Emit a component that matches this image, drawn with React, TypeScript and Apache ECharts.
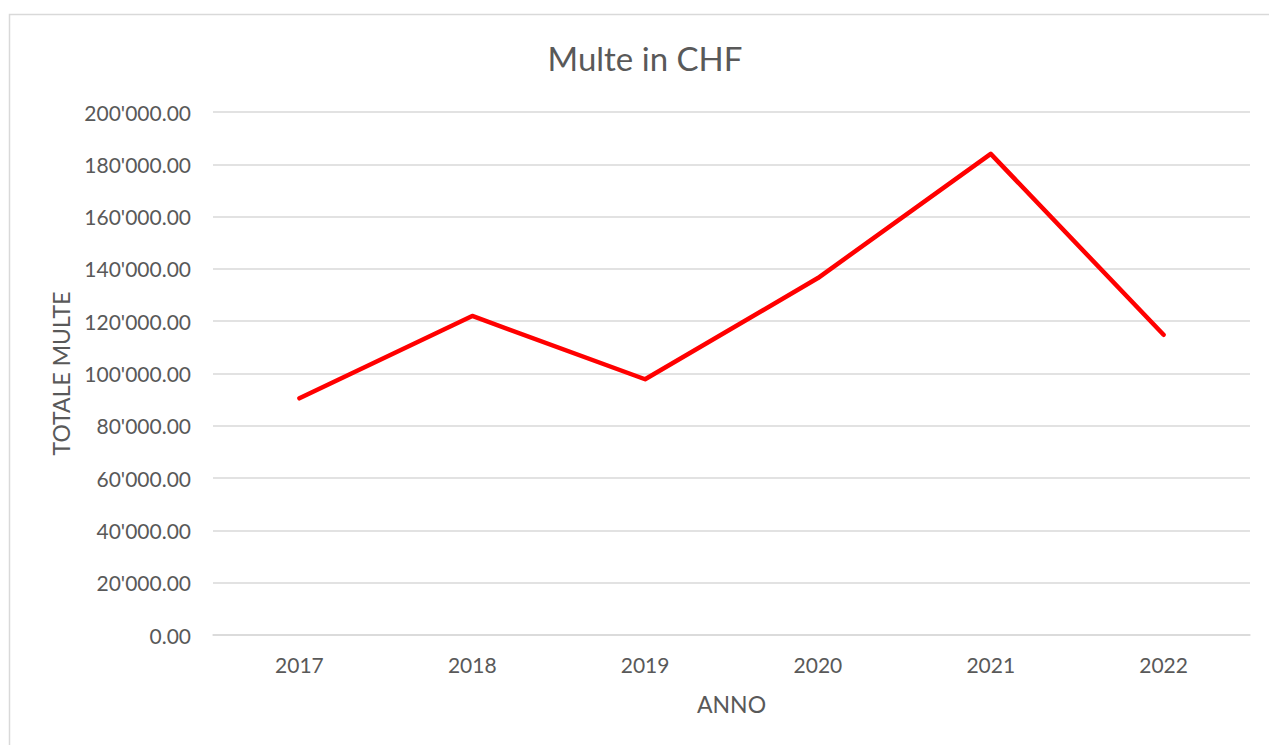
import React, { useEffect, useRef } from "react";
import * as echarts from "echarts";

const years = ["2017", "2018", "2019", "2020", "2021", "2022"];
const multe = [90500, 122000, 97800, 136500, 184000, 114800];

function fmt(v: number): string {
  const [i, d] = v.toFixed(2).split(".");
  return i.replace(/\B(?=(\d{3})+(?!\d))/g, "'") + "." + d;
}

export default function App() {
  const ref = useRef<HTMLDivElement>(null);
  useEffect(() => {
    const chart = echarts.init(ref.current!, undefined, { renderer: "svg" });
    const font = "Lato, 'Open Sans', sans-serif";
    chart.setOption({
      animation: false,
      backgroundColor: "#ffffff",
      textStyle: { fontFamily: font },
      graphic: [
        {
          type: "rect",
          shape: { x: 9.5, y: 14.5, width: 1300, height: 800 },
          style: { fill: "none", stroke: "#d9d9d9", lineWidth: 1.5 },
          silent: true,
        },
      ],
      title: {
        text: "Multe in CHF",
        left: 640,
        top: 36,
        textAlign: "center",
        textStyle: { fontFamily: font, fontSize: 33, fontWeight: "normal", color: "#595959" },
      },
      grid: { left: 213, right: 19, top: 112, bottom: 110 },
      xAxis: {
        type: "category",
        data: years,
        boundaryGap: true,
        name: "ANNO",
        nameLocation: "middle",
        nameGap: 57,
        nameTextStyle: { fontFamily: font, fontSize: 23, color: "#595959" },
        axisLine: { lineStyle: { color: "#d9d9d9", width: 1.5 } },
        axisTick: { show: false },
        axisLabel: { fontFamily: font, fontSize: 21, color: "#595959", margin: 19 },
      },
      yAxis: {
        type: "value",
        min: 0,
        max: 200000,
        interval: 20000,
        name: "TOTALE MULTE",
        nameLocation: "middle",
        nameGap: 141,
        nameTextStyle: { fontFamily: font, fontSize: 23, color: "#595959" },
        axisLine: { show: false },
        axisTick: { show: false },
        axisLabel: { fontFamily: font, fontSize: 21, color: "#595959", margin: 22, formatter: (v: number) => fmt(v) },
        splitLine: { lineStyle: { color: "#d9d9d9", width: 1.5 } },
      },
      series: [
        {
          type: "line",
          data: multe,
          symbol: "none",
          lineStyle: { color: "#ff0000", width: 4.5, cap: "round", join: "round" },
        },
      ],
    });
    return () => chart.dispose();
  }, []);
  return (
    <div
      ref={ref}
      style={{ position: "fixed", left: 0, top: 0, width: 1269, height: 745 }}
    />
  );
}
